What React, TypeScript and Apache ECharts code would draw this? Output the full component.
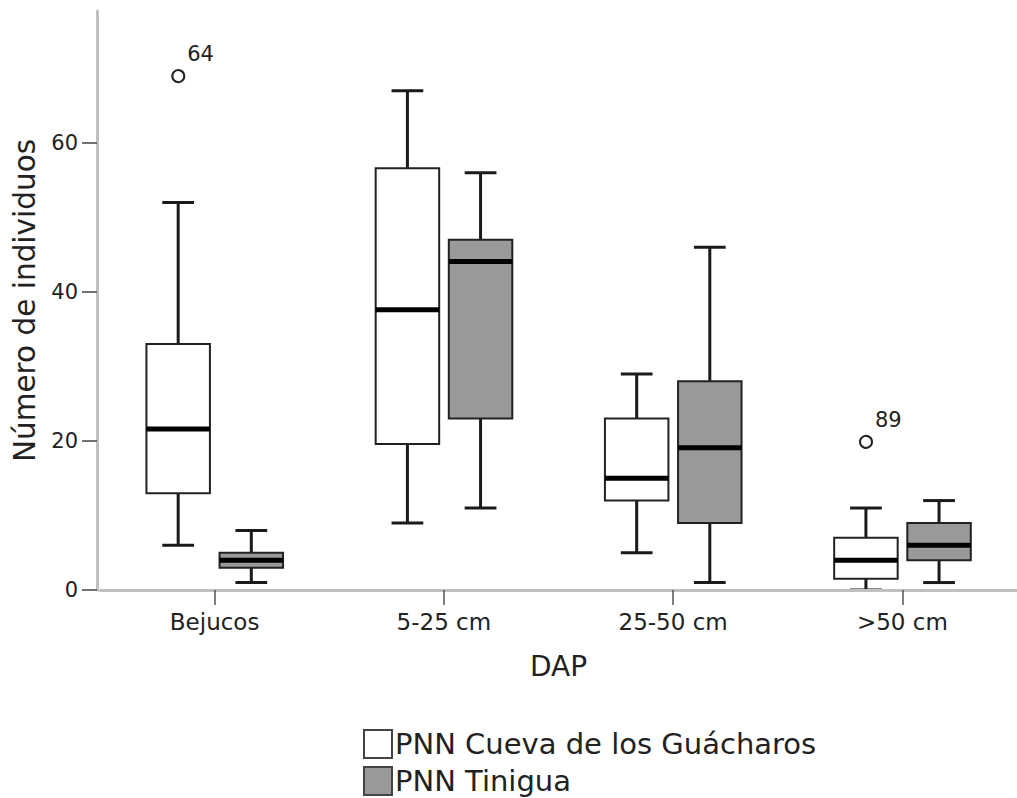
import React, { useEffect, useRef } from "react";
import * as echarts from "echarts";

const categories = ["Bejucos", "5-25 cm", "25-50 cm", ">50 cm"];
const seriesNames = ["PNN Cueva de los Guácharos", "PNN Tinigua"];
// [min, Q1, median, Q3, max]
const cuevaStats = [
  [6, 13, 21.6, 33, 52],
  [9, 19.6, 37.6, 56.6, 67],
  [5, 12, 15, 23, 29],
  [0, 1.5, 4, 7, 11],
];
const tiniguaStats = [
  [1, 3, 4, 5, 8],
  [11, 23, 44.1, 47, 56],
  [1, 9, 19.1, 28, 46],
  [1, 4, 6, 9, 12],
];
const outlierCats = [0, 3];
const outlierSeries = [0, 0];
const outlierValues = [69.1, 20];
const outlierIds = ["64", "89"];
const yTicks = [0, 20, 40, 60];

const FONT = "DejaVu Sans";
const OFFSETS = [-0.159, 0.16];
const BOXW = 0.277;

function makeBoxSeries(name: string, stats: number[][], si: number, fill: string) {
  return {
    name,
    type: "custom",
    z: 2,
    itemStyle: { color: fill, borderColor: "#222" },
    encode: { x: 0, y: [1, 2, 3, 4, 5] },
    data: stats.map((s, i) => [i, ...s]),
    renderItem: (params: any, api: any) => {
      const idx = api.value(0);
      const band = api.size([1, 0])[0];
      const cx = api.coord([idx, 0])[0] + OFFSETS[si] * band;
      const w = BOXW * band;
      const y = (k: number) => api.coord([idx, api.value(k)])[1];
      const yMin = y(1), yQ1 = y(2), yMed = y(3), yQ3 = y(4), yMax = y(5);
      const stroke = { stroke: "#1a1a1a", lineWidth: 3 };
      return {
        type: "group",
        children: [
          { type: "line", shape: { x1: cx, y1: yMax, x2: cx, y2: yQ3 }, style: stroke },
          { type: "line", shape: { x1: cx, y1: yQ1, x2: cx, y2: yMin }, style: stroke },
          { type: "line", shape: { x1: cx - w / 4, y1: yMax, x2: cx + w / 4, y2: yMax }, style: stroke },
          { type: "line", shape: { x1: cx - w / 4, y1: yMin, x2: cx + w / 4, y2: yMin }, style: stroke },
          {
            type: "rect",
            shape: { x: cx - w / 2, y: yQ3, width: w, height: yQ1 - yQ3 },
            style: { fill, stroke: "#222", lineWidth: 2 },
          },
          {
            type: "line",
            shape: { x1: cx - w / 2, y1: yMed, x2: cx + w / 2, y2: yMed },
            style: { stroke: "#000", lineWidth: 5 },
          },
        ],
      };
    },
  };
}

export default function App() {
  const ref = useRef<HTMLDivElement>(null);
  useEffect(() => {
    if (!ref.current) return;
    const chart = echarts.init(ref.current, null, { renderer: "svg" });
    chart.setOption({
      animation: false,
      backgroundColor: "#fff",
      textStyle: { fontFamily: FONT },
      grid: { left: 100, right: -4, top: 11, bottom: 208 },
      legend: {
        orient: "vertical",
        left: 363,
        top: 729,
        padding: 0,
        height: 69,
        itemWidth: 28,
        itemHeight: 28,
        itemGap: 7,
        icon: "rect",
        textStyle: { fontFamily: FONT, fontSize: 29, color: "#222", padding: [0, 0, 0, -2] },
        data: [
          { name: seriesNames[0], itemStyle: { color: "#fff", borderColor: "#444", borderWidth: 2 } },
          { name: seriesNames[1], itemStyle: { color: "#999", borderColor: "#444", borderWidth: 2 } },
        ],
      },
      xAxis: {
        type: "category",
        data: categories,
        z: 5,
        name: "DAP",
        nameLocation: "middle",
        nameGap: 62,
        nameTextStyle: { fontFamily: FONT, fontSize: 28, color: "#222" },
        axisLine: { show: true, lineStyle: { color: "#c0c0c0", width: 3 } },
        axisTick: { show: true, alignWithLabel: true, length: 15, lineStyle: { color: "#555", width: 1.5 } },
        axisLabel: { fontFamily: FONT, fontSize: 23, color: "#222", margin: 20 },
        splitLine: { show: false },
      },
      yAxis: {
        type: "value",
        min: 0,
        max: 77.7,
        offset: 3,
        name: "Número de individuos",
        nameLocation: "middle",
        nameGap: 55,
        nameTextStyle: { fontFamily: FONT, fontSize: 29.5, color: "#222" },
        axisLine: { show: true, lineStyle: { color: "#c0c0c0", width: 3 } },
        axisTick: { show: true, length: 15, customValues: yTicks, lineStyle: { color: "#444", width: 1.5 } },
        axisLabel: { fontFamily: FONT, fontSize: 21, color: "#222", margin: 19, customValues: yTicks },
        splitLine: { show: false },
      },
      series: [
        makeBoxSeries(seriesNames[0], cuevaStats, 0, "#ffffff"),
        makeBoxSeries(seriesNames[1], tiniguaStats, 1, "#999999"),
        {
          name: "outliers",
          type: "custom",
          z: 3,
          encode: { x: 0, y: 2 },
          data: outlierValues.map((v, i) => [outlierCats[i], outlierSeries[i], v]),
          renderItem: (params: any, api: any) => {
            const idx = api.value(0);
            const si = api.value(1);
            const band = api.size([1, 0])[0];
            const p = api.coord([idx, api.value(2)]);
            const cx = p[0] + OFFSETS[si] * band;
            const cy = p[1];
            return {
              type: "group",
              children: [
                {
                  type: "circle",
                  shape: { cx, cy, r: 6 },
                  style: { fill: "#fff", stroke: "#222", lineWidth: 2 },
                },
                {
                  type: "text",
                  x: cx + 9,
                  y: cy - 21,
                  style: {
                    text: outlierIds[params.dataIndex],
                    fontFamily: FONT,
                    fontSize: 21,
                    fill: "#222",
                    verticalAlign: "middle",
                    align: "left",
                  },
                },
              ],
            };
          },
        },
      ],
    });
    return () => chart.dispose();
  }, []);
  return (
    <div
      ref={ref}
      style={{ position: "fixed", left: 0, top: 0, width: 1017, height: 798 }}
    />
  );
}
